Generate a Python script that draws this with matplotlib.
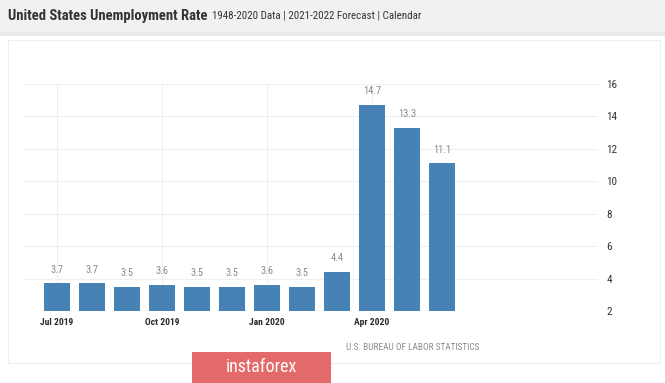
import matplotlib.pyplot as plt
from matplotlib.patches import Rectangle

# data
months = ["Jul 2019", "Aug 2019", "Sep 2019", "Oct 2019", "Nov 2019", "Dec 2019",
          "Jan 2020", "Feb 2020", "Mar 2020", "Apr 2020", "May 2020", "Jun 2020"]
rates = [3.7, 3.7, 3.5, 3.6, 3.5, 3.5, 3.6, 3.5, 4.4, 14.7, 13.3, 11.1]
tick_months = ["Jul 2019", "Oct 2019", "Jan 2020", "Apr 2020"]
y_ticks = [2, 4, 6, 8, 10, 12, 14, 16]

NARROW = ["Roboto Condensed", "Liberation Sans Narrow", "DejaVu Sans"]

W, H = 665, 383
fig = plt.figure(figsize=(W / 100, H / 100), dpi=100)
fig.patch.set_facecolor("white")


def px(x, y, w, h):
    # pixel box (top-left origin) -> figure fraction
    return [x / W, 1 - (y + h) / H, w / W, h / H]


# header bar and panel
bg = fig.add_axes([0, 0, 1, 1], zorder=-5)
bg.set_xlim(0, W)
bg.set_ylim(H, 0)
bg.axis("off")
bg.add_patch(Rectangle((0, 0), W, 32, facecolor="#f1f1f1", edgecolor="none"))
bg.add_patch(Rectangle((0, 32), W, 4, facecolor="#e9e9e9", edgecolor="none"))
bg.add_patch(Rectangle((8, 40), 652, 323, facecolor="white", edgecolor="#eeeeee", lw=0.8))

fig.text(8 / W, 1 - 16 / H, "United States Unemployment Rate", fontsize=10.5,
         fontweight="bold", color="#333333", family=NARROW, va="center")
fig.text(212 / W, 1 - 16 / H, "1948-2020 Data | 2021-2022 Forecast | Calendar",
         fontsize=7.9, color="#333333", family=NARROW, va="center")

# chart
ax = fig.add_axes(px(23, 84, 575, 227))
x = list(range(len(rates)))
bottom = 2
ax.bar(x, [r - bottom for r in rates], bottom=bottom, width=0.75, color="#4682b4", zorder=3)
for xi, r in zip(x, rates):
    ax.text(xi, r + 0.55, f"{r}", ha="center", va="bottom", fontsize=7.5,
            color="#8a8a8a", family=NARROW)

ax.set_xlim(-0.97, 15.46)
ax.set_ylim(2, 16)
ax.set_yticks(y_ticks)
ax.yaxis.tick_right()
ax.tick_params(axis="y", length=0, pad=6, labelsize=8)
for lab in ax.get_yticklabels():
    lab.set_family(NARROW)
    lab.set_color("#333333")
ax.set_xticks([months.index(m) for m in tick_months])
ax.set_xticklabels(tick_months)
ax.tick_params(axis="x", length=0, pad=5, labelsize=6.8)
for lab in ax.get_xticklabels():
    lab.set_fontweight("bold")
    lab.set_family(NARROW)
    lab.set_color("#2a2a2a")
ax.grid(True, color="#efefef", lw=0.8, zorder=0)
for s in ax.spines.values():
    s.set_visible(False)

fig.text(479 / W, 1 - 348 / H, "U.S. BUREAU OF LABOR STATISTICS", fontsize=6.7,
         color="#8a8a8a", ha="right", va="center", family=NARROW)

# watermark
bg.add_patch(Rectangle((192, 352), 139, 31, facecolor="#e46a6a", edgecolor="none"))
fig.text(261.5 / W, 1 - 367 / H, "instaforex", fontsize=13, color="white",
         ha="center", va="center", family=NARROW)

fig.savefig("out.png", dpi=100)
